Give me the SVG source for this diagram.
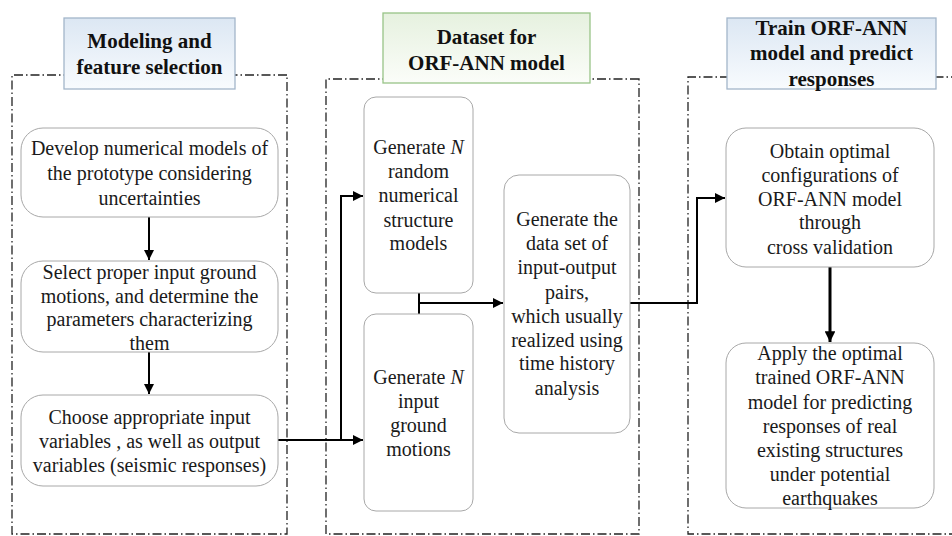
<svg xmlns="http://www.w3.org/2000/svg" width="952" height="536" viewBox="0 0 952 536">
<defs>
<linearGradient id="gb" x1="0" y1="0" x2="0" y2="1"><stop offset="0" stop-color="#dce7f3"/><stop offset="1" stop-color="#f8fbfe"/></linearGradient>
<linearGradient id="gg" x1="0" y1="0" x2="0" y2="1"><stop offset="0" stop-color="#e6f1df"/><stop offset="1" stop-color="#fbfdf9"/></linearGradient>
<marker id="ah" viewBox="0 0 10 10" refX="10" refY="5" markerWidth="5" markerHeight="5" orient="auto" markerUnits="strokeWidth"><path d="M0,0 L10,5 L0,10 z" fill="#000"/></marker>
<marker id="ah2" viewBox="0 0 10 10" refX="10" refY="5" markerWidth="3.6" markerHeight="3.6" orient="auto" markerUnits="strokeWidth"><path d="M0,0 L10,5 L0,10 z" fill="#000"/></marker>
</defs>
<style>
.frame{fill:none;stroke:#222;stroke-width:1.3;stroke-dasharray:9 3 1.5 3}
.node{fill:#fff;stroke:#a8a8a8;stroke-width:1}
.hb{stroke:#a3b6ca;stroke-width:1.3;fill:url(#gb)}
.hg{stroke:#98c487;stroke-width:1.3;fill:url(#gg)}
.t{font-family:"Liberation Serif",serif;font-size:20px;fill:#1a1a1a;text-anchor:middle}
.h{font-family:"Liberation Serif",serif;font-size:21px;font-weight:bold;fill:#111;text-anchor:middle}
.c{fill:none;stroke:#000;stroke-width:2}
</style>
<rect width="952" height="536" fill="#fff"/>
<g id="frames">
<path class="frame" d="M287,75 L12,75 L12,534 L287,534 Z"/>
<path class="frame" d="M639,79 L326,79 L326,534 L639,534 Z"/>
<path class="frame" d="M960,77 L688,77 L688,534 L960,534"/>
</g>
<g id="header1"><rect class="hb" x="64" y="18" width="171" height="71"/><text class="h" x="149.5" y="48">Modeling and</text><text class="h" x="149.5" y="74">feature selection</text></g>
<g id="header2"><rect class="hg" x="383" y="13" width="207" height="70"/><text class="h" x="486.5" y="44">Dataset for</text><text class="h" x="486.5" y="70">ORF-ANN model</text></g>
<g id="header3"><rect class="hb" x="727" y="18" width="209" height="71"/><text class="h" x="831.5" y="35">Train ORF-ANN</text><text class="h" x="831.5" y="60">model and predict</text><text class="h" x="831.5" y="86">responses</text></g>
<g id="connectors">
<line class="c" x1="149" y1="217" x2="149" y2="260" marker-end="url(#ah)"/>
<line class="c" x1="149" y1="352" x2="149" y2="394" marker-end="url(#ah)"/>
<path class="c" d="M278,440 L341,440 L341,196 L363,196" marker-end="url(#ah)"/>
<path class="c" d="M341,440 L363,440" marker-end="url(#ah)"/>
<line class="c" x1="419" y1="292" x2="419" y2="316"/>
<path class="c" d="M419,303 L503,303" marker-end="url(#ah)"/>
<path class="c" d="M630,303 L697,303 L697,198 L725,198" marker-end="url(#ah)"/>
<line x1="830" y1="267" x2="830" y2="342" stroke="#000" stroke-width="3" marker-end="url(#ah2)"/>
</g>
<g id="n1"><rect class="node" x="21" y="128" width="257" height="89" rx="22"/><text class="t" x="149.5" y="155">Develop numerical models of</text><text class="t" x="149.5" y="180">the prototype considering</text><text class="t" x="149.5" y="205">uncertainties</text></g>
<g id="n2"><rect class="node" x="21" y="261" width="257" height="91" rx="22"/><text class="t" x="149.5" y="279">Select proper input ground</text><text class="t" x="149.5" y="303">motions, and determine the</text><text class="t" x="149.5" y="326">parameters characterizing</text><text class="t" x="149.5" y="350">them</text></g>
<g id="n3"><rect class="node" x="21" y="395" width="257" height="91" rx="22"/><text class="t" x="149.5" y="424">Choose appropriate input</text><text class="t" x="149.5" y="448">variables , as well as output</text><text class="t" x="149.5" y="472">variables (seismic responses)</text></g>
<g id="n4"><rect class="node" x="364" y="97" width="109" height="196" rx="12"/><text class="t" x="418.5" y="154">Generate <tspan font-style="italic">N</tspan></text><text class="t" x="418.5" y="178">random</text><text class="t" x="418.5" y="202">numerical</text><text class="t" x="418.5" y="227">structure</text><text class="t" x="418.5" y="250">models</text></g>
<g id="n5"><rect class="node" x="364" y="314" width="109" height="197" rx="12"/><text class="t" x="418.5" y="384">Generate <tspan font-style="italic">N</tspan></text><text class="t" x="418.5" y="408">input</text><text class="t" x="418.5" y="432">ground</text><text class="t" x="418.5" y="456">motions</text></g>
<g id="n6"><rect class="node" x="504" y="175" width="126" height="258" rx="15"/><text class="t" x="567" y="226">Generate the</text><text class="t" x="567" y="250">data set of</text><text class="t" x="567" y="274">input-output</text><text class="t" x="567" y="299">pairs,</text><text class="t" x="567" y="323">which usually</text><text class="t" x="567" y="347">realized using</text><text class="t" x="567" y="370">time history</text><text class="t" x="567" y="395">analysis</text></g>
<g id="n7"><rect class="node" x="726" y="128" width="208" height="139" rx="20"/><text class="t" x="830" y="158">Obtain optimal</text><text class="t" x="830" y="182">configurations of</text><text class="t" x="830" y="206">ORF-ANN model</text><text class="t" x="830" y="229">through</text><text class="t" x="830" y="254">cross validation</text></g>
<g id="n8"><rect class="node" x="726" y="343" width="208" height="165" rx="20"/><text class="t" x="830" y="360">Apply the optimal</text><text class="t" x="830" y="384">trained ORF-ANN</text><text class="t" x="830" y="409">model for predicting</text><text class="t" x="830" y="433">responses of real</text><text class="t" x="830" y="457">existing structures</text><text class="t" x="830" y="481">under potential</text><text class="t" x="830" y="505">earthquakes</text></g>
</svg>
